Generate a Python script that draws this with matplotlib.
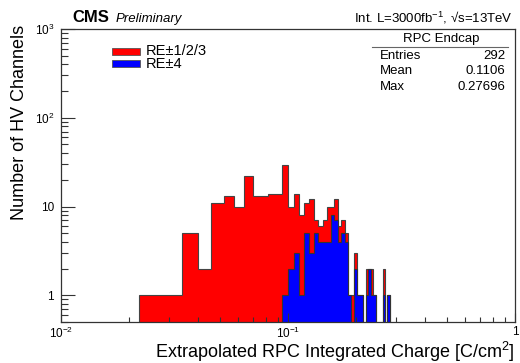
import numpy as np
import matplotlib
matplotlib.use("Agg")
import matplotlib.pyplot as plt
from matplotlib.ticker import LogLocator, FixedLocator, FixedFormatter, NullFormatter

plt.rcParams['font.family'] = ['Liberation Sans', 'DejaVu Sans']
plt.rcParams['mathtext.fontset'] = 'custom'
plt.rcParams['mathtext.rm'] = 'Liberation Sans'
plt.rcParams['mathtext.it'] = 'Liberation Sans:italic'
plt.rcParams['mathtext.bf'] = 'Liberation Sans:bold'

# bins of 0.006 from 0.022 to 0.280
bin_edges = np.round(np.arange(0.022, 0.2801, 0.006), 3)

# RE+-1/2/3 (drawn as total, red)
counts_re123 = [1, 1, 5, 2, 11, 13, 10, 22, 13, 13,
                14, 14, 29, 10, 14, 8, 11, 12, 7, 6,
                7, 10, 10, 12, 6, 7, 5, 1, 1, 3,
                1, 1, 0, 2, 2, 2, 1, 0, 0, 0,
                2, 0, 1]
# RE+-4 (blue)
counts_re4 = [0, 0, 0, 0, 0, 0, 0, 0, 0, 0,
              0, 0, 1, 2, 3, 1, 5, 3, 5, 4,
              4, 4, 8, 7, 4, 5, 4, 1, 0, 2,
              1, 1, 0, 1, 2, 1, 1, 0, 0, 0,
              1, 0, 1]

stats_names = ["Entries", "Mean", "Max"]
stats_values = ["292", "0.1106", "0.27696"]

fig = plt.figure(figsize=(5.2, 3.63), dpi=100)
ax = fig.add_axes([61 / 520, 41 / 363, 454 / 520, 293 / 363])

ax.stairs(counts_re123, bin_edges, fill=True, facecolor='#ff0000',
          edgecolor='#444444', linewidth=0.8, baseline=0)
ax.stairs(counts_re4, bin_edges, fill=True, facecolor='#0000ff',
          edgecolor='#333333', linewidth=0.8, baseline=0)

ax.set_xscale('log', nonpositive='clip')
ax.set_yscale('log', nonpositive='clip')
ax.set_xlim(0.01, 1)
ax.set_ylim(0.5, 1000)

for s in ['top', 'right', 'left', 'bottom']:
    ax.spines[s].set_color('#333333')
    ax.spines[s].set_linewidth(0.9)

ax.xaxis.set_major_locator(FixedLocator([0.01, 0.1, 1]))
ax.xaxis.set_major_formatter(FixedFormatter([r'$10^{-2}$', r'$10^{-1}$', '1']))
ax.xaxis.set_minor_locator(LogLocator(base=10, subs=np.arange(2, 10)))
ax.xaxis.set_minor_formatter(NullFormatter())
ax.yaxis.set_major_locator(FixedLocator([1, 10, 100, 1000]))
ax.yaxis.set_major_formatter(FixedFormatter(['1', '10', r'$10^{2}$', r'$10^{3}$']))
ax.yaxis.set_minor_locator(LogLocator(base=10, subs=np.arange(2, 10)))
ax.yaxis.set_minor_formatter(NullFormatter())

ax.tick_params(axis='both', which='both', direction='in', top=False, right=False,
               color='#333333', labelsize=8.5)
ax.tick_params(axis='y', which='major', length=10, width=0.8, pad=5)
ax.tick_params(axis='y', which='minor', length=5, width=0.8)
ax.tick_params(axis='x', which='major', length=6.5, width=0.8, pad=3)
ax.tick_params(axis='x', which='minor', length=3.3, width=0.8)

fig.text(515 / 520, 1 - 352 / 363, r'Extrapolated RPC Integrated Charge [C/cm$^{2}$]',
         ha='right', va='center', fontsize=13)
fig.text(20 / 520, 1 - 25 / 363, 'Number of HV Channels', rotation=90,
         ha='center', va='top', fontsize=13)

# header
fig.text(72 / 520, 1 - 18 / 363, 'CMS', fontweight='bold', fontsize=12,
         ha='left', va='center')
fig.text(116 / 520, 1 - 19 / 363, 'Preliminary', fontstyle='italic', fontsize=9.5,
         ha='left', va='center')
fig.text(513 / 520, 1 - 18 / 363, r'Int. L=3000fb$^{-1}$, √s=13TeV', fontsize=9.5,
         ha='right', va='center')

# legend
leg_colors = ['#ff0000', '#0000ff']
leg_labels = ['RE±1/2/3', 'RE±4']
for i, (c, lab) in enumerate(zip(leg_colors, leg_labels)):
    yc = 51 + 12.5 * i
    fig.patches.append(plt.Rectangle((112 / 520, 1 - (yc + 3.5) / 363), 28 / 520, 7 / 363,
                                     transform=fig.transFigure, facecolor=c,
                                     edgecolor='#555555', linewidth=0.6))
    fig.text(146 / 520, 1 - yc / 363, lab, fontsize=10.5, ha='left', va='center')

# stats box
fig.text(441 / 520, 1 - 39 / 363, 'RPC Endcap', fontsize=9.5, ha='center', va='center')
fig.add_artist(plt.Line2D([372 / 520, 508 / 520], [1 - 47 / 363, 1 - 47 / 363],
                          transform=fig.transFigure, color='#666666', lw=0.8))
for i, (n, v) in enumerate(zip(stats_names, stats_values)):
    yy = 1 - (56 + 15.5 * i) / 363
    fig.text(380 / 520, yy, n, fontsize=9.5, ha='left', va='center')
    fig.text(505 / 520, yy, v, fontsize=9.5, ha='right', va='center')

fig.savefig('out.png', dpi=100)
